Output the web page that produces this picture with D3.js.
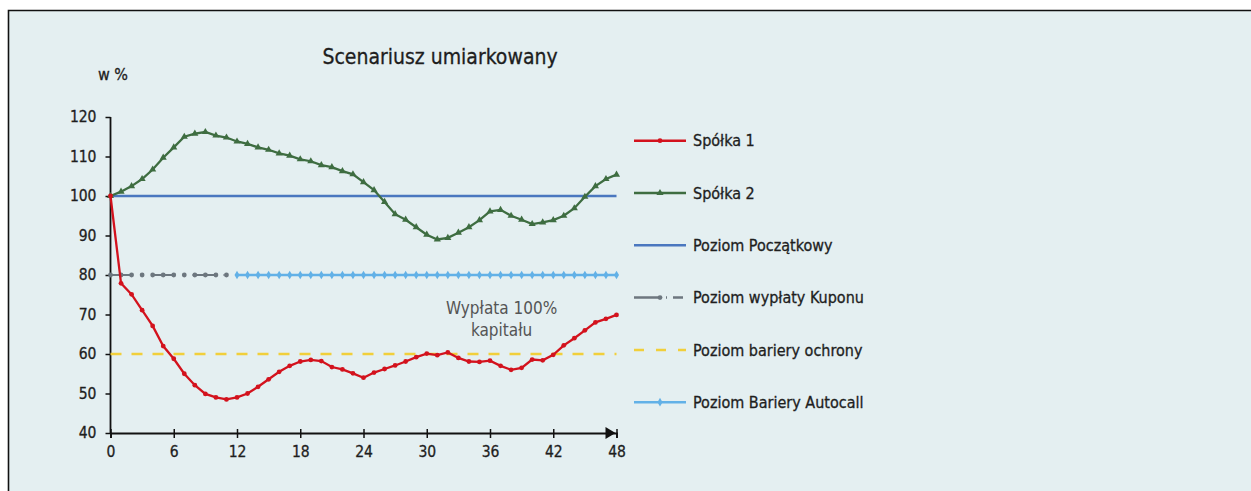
<!DOCTYPE html>
<html lang="pl">
<head>
<meta charset="utf-8">
<script src="https://d3js.org/d3.v7.min.js"></script>
<style>
  body { margin: 0; background: #ffffff; }
  svg text { font-family: "DejaVu Sans Condensed", "DejaVu Sans", sans-serif; font-stretch: condensed; fill: #1e1e1e; stroke: #1e1e1e; stroke-width: 0.3px; }
</style>
</head>
<body>
<div id="chart"></div>
<script>
// ---- data ----
var months = d3.range(0, 49);
var spolka1 = [100, 77.9, 75.1, 71.1, 67.1, 62, 58.8, 55, 52.1, 49.9, 49, 48.5, 49, 50, 51.7, 53.6, 55.5, 57, 58.1, 58.5,
  58.2, 56.7, 56.1, 55.1, 54, 55.3, 56.2, 57.1, 58.1, 59.2, 60.1, 59.7, 60.4, 59, 58.1, 58, 58.3, 57, 56, 56.5,
  58.6, 58.4, 59.8, 62.2, 64, 66, 68, 68.9, 69.9];
var spolka2 = [100, 101.1, 102.5, 104.3, 106.7, 109.7, 112.3, 115, 115.8, 116.2, 115.3, 114.8, 113.8, 113.2, 112.3, 111.7,
  110.8, 110.2, 109.3, 108.8, 107.8, 107.3, 106.3, 105.5, 103.5, 101.5, 98.5, 95.4, 94, 92.1, 90.2, 89, 89.4, 90.7,
  92.1, 93.9, 96.1, 96.5, 95, 94, 92.9, 93.3, 93.9, 95, 96.9, 99.8, 102.5, 104.3, 105.4];
var poziomPoczatkowy = 100;
var poziomKuponu = 80, kuponMonths = d3.range(0, 12);
var barieraOchrony = 60;
var barieraAutocall = 80, autocallMonths = d3.range(12, 49);
var xTicks = [0, 6, 12, 18, 24, 30, 36, 42, 48];
var yTicks = [40, 50, 60, 70, 80, 90, 100, 110, 120];
var legendNames = ["Spółka 1", "Spółka 2", "Poziom Początkowy", "Poziom wypłaty Kuponu", "Poziom bariery ochrony", "Poziom Bariery Autocall"];
var title = "Scenariusz umiarkowany";
var note = ["Wypłata 100%", "kapitału"];

// ---- setup ----
var width = 1251, height = 491;
var col = { red: "#d3121d", green: "#3e6d41", blue: "#4a77bf", grey: "#6d777f", yellow: "#f1cf3b", light: "#62b1e7" };

var svg = d3.select("#chart").append("svg")
  .attr("width", width).attr("height", height);

// panel background + frame
svg.append("rect").attr("x", 8).attr("y", 10).attr("width", width - 8).attr("height", height - 10)
  .attr("fill", "#e4eff1");
svg.append("path").attr("d", "M8.5," + height + "V10.5H" + width)
  .attr("fill", "none").attr("stroke", "#111").attr("stroke-width", 1.6);

var x = d3.scaleLinear().domain([0, 48]).range([110.5, 616.5]);
var y = d3.scaleLinear().domain([40, 120]).range([433, 117]);

var line = d3.line().x(function(d) { return x(d[0]); }).y(function(d) { return y(d[1]); });

// title and unit
svg.append("text").attr("x", 440).attr("y", 64).attr("text-anchor", "middle")
  .style("font-size", "21px").text(title);
svg.append("text").attr("x", 98).attr("y", 80).style("font-size", "16px").text("w %");

// ---- axes ----
var yAxis = svg.append("g").attr("transform", "translate(" + x(0) + ",0)")
  .call(d3.axisLeft(y).tickValues(yTicks).tickSize(5).tickPadding(9));
var xAxis = svg.append("g").attr("transform", "translate(0," + y(40) + ")")
  .call(d3.axisBottom(x).tickValues(xTicks).tickSize(5).tickPadding(8));
[xAxis, yAxis].forEach(function(g) {
  g.select(".domain").attr("stroke", "#111").attr("stroke-width", 1.8);
  g.selectAll(".tick line").attr("stroke", "#111").attr("stroke-width", 1.5);
  g.selectAll(".tick text").style("font-size", "15.5px").attr("fill", "#1e1e1e");
});
yAxis.select(".domain").attr("d", "M0," + y(120) + "V" + y(40));
xAxis.selectAll(".tick line").attr("y1", -4);
// arrow head at end of x axis
svg.append("path")
  .attr("d", "M" + (x(48) - 11) + "," + (y(40) - 6) + "L" + (x(48) - 1) + "," + y(40) + "L" + (x(48) - 11) + "," + (y(40) + 6) + "Z")
  .attr("fill", "#111");

// ---- reference levels ----
svg.append("path").datum([[0, barieraOchrony], [48, barieraOchrony]]).attr("d", line)
  .attr("stroke", col.yellow).attr("stroke-width", 2.5).attr("stroke-dasharray", "11,10").attr("fill", "none");
svg.append("path").datum([[0, poziomPoczatkowy], [48, poziomPoczatkowy]]).attr("d", line)
  .attr("stroke", col.blue).attr("stroke-width", 2.5).attr("fill", "none");

svg.append("path").datum([[0, poziomKuponu], [11.4, poziomKuponu]]).attr("d", line)
  .attr("stroke", col.grey).attr("stroke-width", 2.2).attr("stroke-dasharray", "22,9,1,9").attr("fill", "none");
svg.selectAll("circle.kupon").data(kuponMonths).enter().append("circle").attr("class", "kupon")
  .attr("cx", function(d) { return x(d); }).attr("cy", y(poziomKuponu)).attr("r", 2.4).attr("fill", col.grey);

svg.append("path").datum(autocallMonths.map(function(m) { return [m, barieraAutocall]; })).attr("d", line)
  .attr("stroke", col.light).attr("stroke-width", 2.5).attr("fill", "none");
svg.selectAll("path.autocall").data(autocallMonths).enter().append("path").attr("class", "autocall")
  .attr("d", d3.symbol().type(d3.symbolDiamond).size(22))
  .attr("transform", function(d) { return "translate(" + x(d) + "," + y(barieraAutocall) + ")"; })
  .attr("fill", col.light);

// ---- company series ----
var s2 = months.map(function(m, i) { return [m, spolka2[i]]; });
svg.append("path").datum(s2).attr("d", line)
  .attr("stroke", col.green).attr("stroke-width", 2.3).attr("fill", "none");
svg.selectAll("path.s2").data(s2).enter().append("path").attr("class", "s2")
  .attr("d", d3.symbol().type(d3.symbolTriangle).size(22))
  .attr("transform", function(d) { return "translate(" + x(d[0]) + "," + y(d[1]) + ")"; })
  .attr("fill", col.green);

var s1 = months.map(function(m, i) { return [m, spolka1[i]]; });
svg.append("path").datum(s1).attr("d", line)
  .attr("stroke", col.red).attr("stroke-width", 2.3).attr("fill", "none");
svg.selectAll("circle.s1").data(s1).enter().append("circle").attr("class", "s1")
  .attr("cx", function(d) { return x(d[0]); }).attr("cy", function(d) { return y(d[1]); })
  .attr("r", 2.4).attr("fill", col.red);

// annotation
svg.append("text").attr("x", x(37.1)).attr("y", 314).attr("text-anchor", "middle")
  .style("stroke", "none")
  .selectAll("tspan").data(note).enter().append("tspan")
  .attr("x", x(37.1)).attr("dy", function(d, i) { return i ? 22 : 0; })
  .style("font-size", "17px").style("fill", "#555").text(function(d) { return d; });

// ---- legend ----
var legend = svg.selectAll("g.legend").data(legendNames).enter().append("g").attr("class", "legend")
  .attr("transform", function(d, i) { return "translate(634," + (140.7 + i * 52.3) + ")"; });

legend.append("line").attr("x1", 0).attr("x2", 52)
  .attr("stroke", function(d, i) { return [col.red, col.green, col.blue, col.grey, col.yellow, col.light][i]; })
  .attr("stroke-width", 2.5)
  .attr("stroke-dasharray", function(d, i) { return i === 3 ? "26,6,1,6,10,100" : i === 4 ? "10,12" : null; });
legend.filter(function(d, i) { return i === 0 || i === 3; }).append("circle")
  .attr("cx", 26).attr("r", 2.4).attr("fill", function(d, i) { return i ? col.grey : col.red; });
legend.filter(function(d, i) { return i === 1; }).append("path")
  .attr("d", d3.symbol().type(d3.symbolTriangle).size(22)).attr("transform", "translate(26,0)").attr("fill", col.green);
legend.filter(function(d, i) { return i === 5; }).append("path")
  .attr("d", d3.symbol().type(d3.symbolDiamond).size(22)).attr("transform", "translate(26,0)").attr("fill", col.light);
legend.append("text").attr("x", 59).attr("dy", "0.35em").style("font-size", "16px").text(function(d) { return d; });
</script>
</body>
</html>
